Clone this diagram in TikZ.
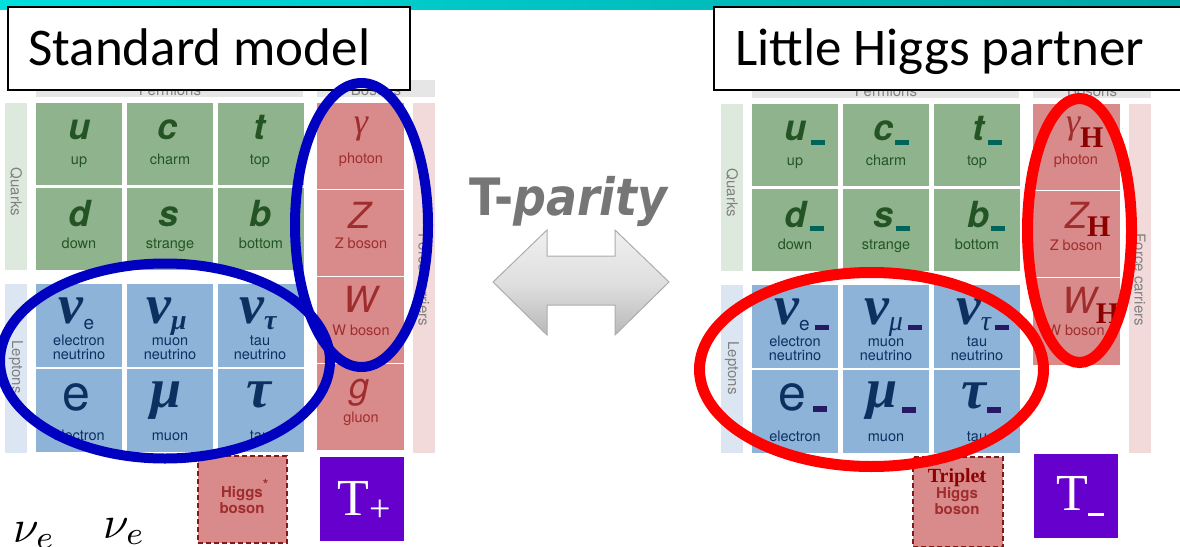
\documentclass[tikz,border=0pt]{standalone}
\usepackage{fontspec}
\usepackage{graphicx}
\newfontfamily\calib{Carlito}
\newfontfamily\hel{TeX Gyre Heros}
\newfontfamily\tms{Liberation Serif}
\newfontfamily\djv{DejaVu Sans}
\newcommand\fsz[1]{\fontsize{#1}{#1}\selectfont}
\definecolor{gcell}{RGB}{143,180,141}
\definecolor{bcell}{RGB}{141,179,217}
\definecolor{rcell}{RGB}{217,139,139}
\definecolor{qstrip}{RGB}{222,233,222}
\definecolor{lstrip}{RGB}{220,230,242}
\definecolor{fstrip}{RGB}{242,218,218}
\definecolor{hdr}{RGB}{230,230,230}
\definecolor{gtext}{RGB}{36,84,36}
\definecolor{btext}{RGB}{14,48,96}
\definecolor{rtext}{RGB}{160,45,45}
\definecolor{htext}{RGB}{140,0,0}
\definecolor{sgray}{RGB}{128,128,128}
\definecolor{eblue}{RGB}{0,0,192}
\definecolor{ered}{RGB}{255,0,0}
\definecolor{tpurple}{RGB}{102,0,204}
\definecolor{tealbar}{RGB}{0,100,88}
\definecolor{navybar}{RGB}{40,25,100}
\definecolor{hborder}{RGB}{130,25,25}
\definecolor{tpgray}{RGB}{118,118,118}
\tikzset{
  box/.style={inner sep=0pt, outer sep=0pt, draw=none},
  gq/.style={box, fill=gcell, minimum width=85.5pt, minimum height=82pt},
  bl/.style={box, fill=bcell, minimum width=85.5pt, minimum height=83pt},
  rb/.style={box, fill=rcell, minimum width=87pt, minimum height=86pt},
  strip/.style={box, minimum width=22pt},
  hdrbox/.style={box, fill=hdr, minimum height=17pt},
  txt/.style={inner sep=0pt, outer sep=0pt, anchor=base},
  qsym/.style={txt, text=gtext, font=\hel\bfseries\itshape\fsz{36}},
  qname/.style={txt, text=gtext, font=\hel\fsz{14.5}},
  lsym/.style={txt, text=btext, font=\tms\bfseries\itshape\fsz{56}},
  lname/.style={txt, text=btext, font=\hel\fsz{14.5}},
  bsym/.style={txt, text=rtext, font=\hel\itshape\fsz{36}},
  bname/.style={txt, text=rtext, font=\hel\fsz{14.5}},
  striplabel/.style={inner sep=0pt, text=sgray, font=\hel\fsz{15}, rotate=-90},
  hdrtext/.style={txt, text=sgray, font=\hel\fsz{15}},
  titlebox/.style={box, draw=black, line width=1.5pt, fill=white, minimum height=83pt},
  titletext/.style={inner sep=0pt, anchor=base west, font=\calib\fsz{53}},
  higgsbox/.style={box, fill=rcell, draw=hborder, line width=1.5pt, dash pattern=on 5pt off 3pt},
  higgstext/.style={txt, text=rtext, font=\hel\bfseries\fsz{15}},
  tbox/.style={box, fill=tpurple, minimum width=84pt, minimum height=84pt},
  ttext/.style={txt, text=white, font=\tms\fsz{52}},
  bluering/.style={draw=eblue, line width=10pt},
  redring/.style={draw=ered, line width=11pt},
  mathtext/.style={inner sep=0pt, anchor=base west, font=\fsz{10}}
}
\newcommand\Hs[1]{\raisebox{#1}{\tms\bfseries\upshape\fsz{30}\textcolor{htext}{H}}}
\begin{document}
\begin{tikzpicture}[x=1pt,y=-1pt]
\useasboundingbox (0,0) rectangle (1180,546);
\clip (0,0) rectangle (1180,546);
\fill[left color={rgb,255:red,0;green,222;blue,222}, right color={rgb,255:red,0;green,165;blue,165}] (0,0) rectangle (1180,9);

% ================= LEFT GRID =================
\node[hdrbox, minimum width=267pt] (lfh) at (169.5,88.5) {};
\node[hdrbox, minimum width=118pt] (lbh) at (376,88.5) {};
\node[hdrtext] (lfht) at (170,95) {Fermions};
\node[hdrtext] (lbht) at (376,95) {Bosons};
\node[strip, fill=qstrip, minimum height=167pt] (lqs) at (16,186.5) {};
\node[strip, fill=lstrip, minimum height=169pt] (lls) at (16,368.5) {};
\node[strip, fill=fstrip, minimum height=350pt] (lfs) at (424,278) {};
\node[striplabel] (lqst) at (16,192) {Quarks};
\node[striplabel] (llst) at (16,367) {Leptons};
\node[striplabel] (lfst) at (424,280) {Force carriers};

\node[gq] (cu) at (78.75,144) {};
\node[gq] (cc) at (169.75,144) {};
\node[gq] (ct) at (260.75,144) {};
\node[gq] (cd) at (78.75,229) {};
\node[gq] (cs) at (169.75,229) {};
\node[gq] (cb) at (260.75,229) {};
\node[qsym] (su) at (79,139) {u};
\node[qsym] (sc) at (168,139) {c};
\node[qsym] (st) at (259,139) {t};
\node[qsym] (sd) at (79,226) {d};
\node[qsym] (ss) at (169,226) {s};
\node[qsym] (sb) at (260,226) {b};
\node[qname] (nu) at (79,164) {up};
\node[qname] (nc) at (170,164) {charm};
\node[qname] (nt) at (260,164) {top};
\node[qname] (nd) at (79,248) {down};
\node[qname] (ns) at (170,248) {strange};
\node[qname] (nb) at (261,248) {bottom};

\node[bl] (cve) at (78.75,325.5) {};
\node[bl] (cvm) at (169.75,325.5) {};
\node[bl] (cvt) at (260.75,325.5) {};
\node[bl] (ce) at (78.75,410.5) {};
\node[bl] (cm) at (169.75,410.5) {};
\node[bl] (ctau) at (260.75,410.5) {};
\node[lsym] (sve) at (76.5,323) {ν\raisebox{-6pt}{\hel\mdseries\upshape\fsz{19}e}};
\node[lsym] (svm) at (166.5,323) {ν\raisebox{-6pt}{\tms\itshape\fsz{28}μ}};
\node[lsym] (svt) at (258,323) {ν\raisebox{-6pt}{\tms\itshape\fsz{28}τ}};
\node[txt, text=btext, font=\hel\fsz{50}] (se) at (76,410) {e};
\node[lsym] (sm) at (166,407) {μ};
\node[lsym] (stau) at (259,407) {τ};
\node[lname] (nve1) at (79,345) {electron};
\node[lname] (nve2) at (79,359) {neutrino};
\node[lname] (nvm1) at (170,345) {muon};
\node[lname] (nvm2) at (170,359) {neutrino};
\node[lname] (nvt1) at (260,345) {tau};
\node[lname] (nvt2) at (260,359) {neutrino};
\node[lname] (ne) at (79,440) {electron};
\node[lname] (nm) at (170,440) {muon};
\node[lname] (ntau) at (260,440) {tau};

\node[rb] (cg) at (360.5,146) {};
\node[rb] (cz) at (360.5,233) {};
\node[rb] (cw) at (360.5,320) {};
\node[rb] (cgl) at (360.5,407) {};
\node[bsym, font=\tms\itshape\fsz{36}] (sg) at (361,133) {γ};
\node[bsym] (sz) at (359,228) {Z};
\node[bsym] (sw) at (360,312) {W};
\node[bsym] (sgl) at (360,398) {g};
\node[bname] (ng) at (361,163) {photon};
\node[bname] (nz) at (361,248) {Z boson};
\node[bname] (nw) at (361,335) {W boson};
\node[bname] (ngl) at (361,422) {gluon};

\node[higgsbox, minimum width=89pt, minimum height=87pt] (hb) at (242.5,499.5) {};
\node[higgstext] (hb1) at (242,497) {Higgs\rlap{\raisebox{8pt}{\fsz{14}*}}};
\node[higgstext] (hb2) at (242,513) {boson};
\node[tbox] (tp) at (361.5,499) {};
\node[ttext] (tpt) at (364,515) {T\raisebox{-6pt}{\fsz{38}+}};

% ================= RIGHT GRID =================
\node[hdrbox, minimum width=267pt] (rfh) at (885.5,89.5) {};
\node[hdrbox, minimum width=118pt] (rbh) at (1092,89.5) {};
\node[hdrtext] (rfht) at (886,96) {Fermions};
\node[hdrtext] (rbht) at (1092,96) {Bosons};
\node[strip, fill=qstrip, minimum height=167pt] (rqs) at (732,187.5) {};
\node[strip, fill=lstrip, minimum height=168pt] (rls) at (732,369) {};
\node[strip, fill=fstrip, minimum height=349pt] (rfs) at (1140,278.5) {};
\node[striplabel] (rqst) at (732,193) {Quarks};
\node[striplabel] (rlst) at (732,368) {Leptons};
\node[striplabel] (rfst) at (1140,280) {Force carriers};

\node[gq] (cu2) at (794.75,145) {};
\node[gq] (cc2) at (885.75,145) {};
\node[gq] (ct2) at (976.75,145) {};
\node[gq] (cd2) at (794.75,230) {};
\node[gq] (cs2) at (885.75,230) {};
\node[gq] (cb2) at (976.75,230) {};
\node[qsym] (su2) at (804.5,140) {u\hspace{4pt}\textcolor{tealbar}{\rule[-5pt]{14pt}{5pt}}};
\node[qsym] (sc2) at (891,140) {c\hspace{2pt}\textcolor{tealbar}{\rule[-5pt]{14pt}{5pt}}};
\node[qsym] (st2) at (987,140) {t\hspace{4pt}\textcolor{tealbar}{\rule[-5pt]{14pt}{5pt}}};
\node[qsym] (sd2) at (804,227) {d\hspace{3pt}\textcolor{tealbar}{\rule[-4pt]{14pt}{5pt}}};
\node[qsym] (ss2) at (891.5,227) {s\hspace{2pt}\textcolor{tealbar}{\rule[-4pt]{14pt}{5pt}}};
\node[qsym] (sb2) at (986,227) {b\hspace{2pt}\textcolor{tealbar}{\rule[-4pt]{14pt}{5pt}}};
\node[qname] (nu2) at (795,165) {up};
\node[qname] (nc2) at (886,165) {charm};
\node[qname] (nt2) at (977,165) {top};
\node[qname] (nd2) at (795,249) {down};
\node[qname] (ns2) at (886,249) {strange};
\node[qname] (nb2) at (977,249) {bottom};

\node[bl] (cve2) at (794.75,326.5) {};
\node[bl] (cvm2) at (885.75,326.5) {};
\node[bl] (cvt2) at (976.75,326.5) {};
\node[bl] (ce2) at (794.75,411.5) {};
\node[bl] (cm2) at (885.75,411.5) {};
\node[bl] (ctau2) at (976.75,411.5) {};
\node[lsym] (sve2) at (801.5,324) {ν\raisebox{-6pt}{\hel\mdseries\upshape\fsz{19}e}\hspace{5pt}\textcolor{navybar}{\rule[-6pt]{14pt}{5pt}}};
\node[lsym] (svm2) at (893,324) {ν\raisebox{-6pt}{\tms\itshape\mdseries\fsz{28}μ}\hspace{5pt}\textcolor{navybar}{\rule[-6pt]{14pt}{5pt}}};
\node[lsym] (svt2) at (982.5,324) {ν\raisebox{-6pt}{\tms\itshape\mdseries\fsz{28}τ}\hspace{4pt}\textcolor{navybar}{\rule[-6pt]{14pt}{5pt}}};
\node[txt, text=btext, font=\hel\fsz{50}] (se2) at (802.5,410) {e\hspace{7pt}\textcolor{navybar}{\rule[-2pt]{14pt}{6pt}}};
\node[lsym] (sm2) at (891,407) {μ\hspace{4pt}\textcolor{navybar}{\rule[-6pt]{14pt}{6pt}}};
\node[lsym] (stau2) at (981.5,408) {τ\hspace{1pt}\textcolor{navybar}{\rule[-5pt]{14pt}{6pt}}};
\node[lname] (nve12) at (795,346) {electron};
\node[lname] (nve22) at (795,360) {neutrino};
\node[lname] (nvm12) at (886,346) {muon};
\node[lname] (nvm22) at (886,360) {neutrino};
\node[lname] (nvt12) at (977,346) {tau};
\node[lname] (nvt22) at (977,360) {neutrino};
\node[lname] (ne2) at (795,441) {electron};
\node[lname] (nm2) at (886,441) {muon};
\node[lname] (ntau2) at (977,441) {tau};

\node[rb] (cg2) at (1076.5,147) {};
\node[rb] (cz2) at (1076.5,234) {};
\node[rb] (cw2) at (1076.5,321) {};
\node[box, fill=rcell, minimum width=87pt, minimum height=1.5pt] (cgl2) at (1076.5,364.5) {};
\node[bsym, anchor=base west] (sg2) at (1066,133) {{\tms\fsz{36}γ}\Hs{-14pt}};
\node[bsym, anchor=base west] (sz2) at (1065,228) {Z\Hs{-8pt}};
\node[bsym, anchor=base west] (sw2) at (1062,313) {W\Hs{-10pt}};
\node[bname] (ng2) at (1076,164) {photon};
\node[bname] (nz2) at (1076,250) {Z boson};
\node[bname] (nw2) at (1076,335) {W boson};

\node[higgsbox, minimum width=90pt, minimum height=90pt] (thb) at (958,502) {};
\node[txt, text=htext, font=\tms\bfseries\fsz{20}] (thb0) at (957,482) {Triplet};
\node[higgstext] (thb1) at (957,498) {Higgs\rlap{\raisebox{11pt}{\fsz{14}*}}};
\node[higgstext] (thb2) at (957,514) {boson};
\node[tbox] (tm) at (1076,496) {};
\node[ttext] (tmt) at (1080,510) {T\textcolor{white}{\rule[-6pt]{16pt}{3pt}}};

% ================= TITLES =================
\node[titlebox, minimum width=402pt] (smbox) at (209,48.5) {};
\node[titletext] (smtext) at (28,65) {Standard model};
\node[titlebox, minimum width=476pt] (lhbox) at (952,48.5) {};
\node[titletext] (lhtext) at (735,65) {Little Higgs partner};

% ================= RINGS =================
\draw[bluering] (165,361) ellipse [x radius=165, y radius=97.5];
\draw[bluering] (361.5,225) ellipse [x radius=66.5, y radius=142];
\draw[redring] (871.5,369.5) ellipse [x radius=172, y radius=97];
\draw[redring] (1079.5,230.5) ellipse [x radius=52, y radius=132];

% ================= T-PARITY =================
\node[txt, text=tpgray, font=\djv\bfseries\fsz{46}] (tpar) at (568.5,215) {\scalebox{1}[1.12]{T-\itshape parity}};
\coordinate (al) at (493,282);
\coordinate (ar) at (669,282);
\draw[gray!65, line width=1pt, top color=gray!12, bottom color=gray!55, middle color=gray!25]
  (al) -- (547,230) -- (547,256) -- (615,256) -- (615,230) -- (ar) -- (615,335) -- (615,305) -- (547,305) -- (547,335) -- cycle;

% ================= BOTTOM LEFT =================
\node[mathtext] (nua) at (13,542) {\scalebox{4.6}{$\nu_e$}};
\node[mathtext] (nub) at (103,538) {\scalebox{4.6}{$\nu_e$}};
\end{tikzpicture}
\end{document}
